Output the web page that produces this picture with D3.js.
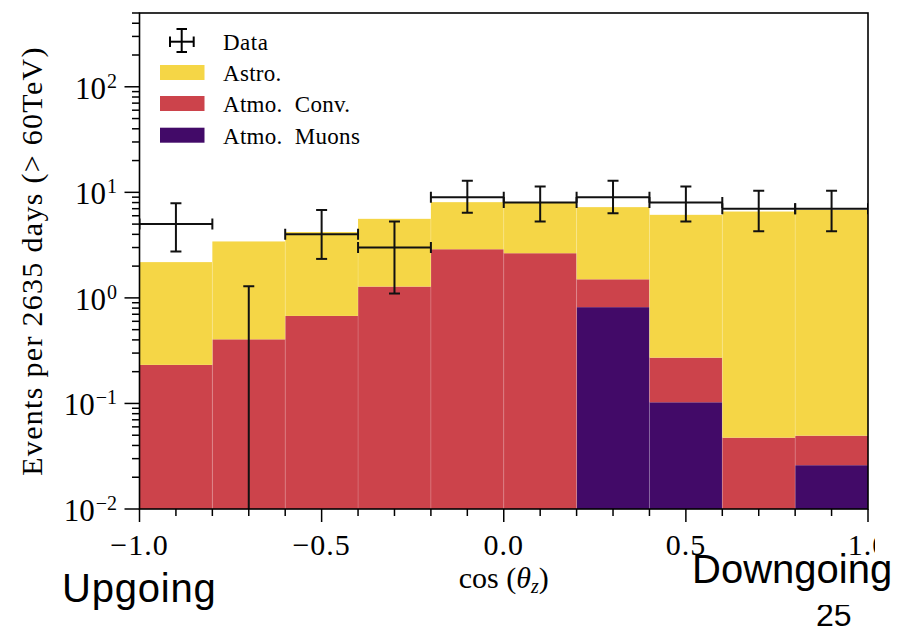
<!DOCTYPE html>
<html>
<head>
<meta charset="utf-8">
<script src="https://cdn.jsdelivr.net/npm/d3@7"></script>
<style>
  html, body { margin: 0; padding: 0; background: #fff; }
  svg { display: block; }
</style>
</head>
<body>
<svg id="chart" width="902" height="629"></svg>
<script>
// Zenith distribution of events, cos(theta_z) bins
const binEdges = [-1.0, -0.8, -0.6, -0.4, -0.2, 0.0, 0.2, 0.4, 0.6, 0.8, 1.0];

// Expected events per component (stacked: muons, conventional, astrophysical)
const atmoMuons = [0, 0, 0, 0, 0, 0, 0.817, 0.1026, 0, 0.026];
const atmoConv  = [0.232, 0.405, 0.675, 1.28, 2.89, 2.65, 0.683, 0.169, 0.0474, 0.0235];
const astro     = [1.95, 3.02, 3.53, 4.33, 5.18, 5.30, 5.74, 5.85, 6.53, 6.77];

// Observed events with lower / upper error bounds
const dataCounts = [5, 0, 4, 3, 9, 8, 9, 8, 7, 7];
const dataLow    = [2.75, 0, 2.34, 1.10, 6.4, 5.29, 6.35, 5.29, 4.28, 4.28];
const dataHigh   = [7.9, 1.29, 6.8, 5.29, 12.85, 11.35, 12.85, 11.35, 10.33, 10.33];

const xTickMajor = [-1.0, -0.5, 0.0, 0.5, 1.0];
const xTickLabels = ["\u22121.0", "\u22120.5", "0.0", "0.5", "1.0"];
const yTickExponents = [-2, -1, 0, 1, 2];

const seriesKeys = ["muons", "conv", "astro"];
const seriesNames = {astro: "Astro.", conv: "Atmo. Conv.", muons: "Atmo. Muons"};
const colors = {astro: "#f5d646", conv: "#cc434b", muons: "#420a68"};

const svg = d3.select("#chart");
const serif = "'Liberation Serif', 'Times New Roman', serif";
const sans = "'Liberation Sans', Arial, sans-serif";

const pLeft = 139.5, pRight = 868, pTop = 13, pBottom = 509;
const yMin = 0.01, yMax = 500;

const x = d3.scaleLinear().domain([-1, 1]).range([pLeft, pRight]);
const y = d3.scaleLog().domain([yMin, yMax]).range([pBottom, pTop]);
const yc = v => y(Math.max(v, yMin));

// clip paths: figure block cut at the right, plot area, page number
const defs = svg.append("defs");
defs.append("clipPath").attr("id", "figclip")
  .append("rect").attr("x", 0).attr("y", 0).attr("width", 875).attr("height", 629);
defs.append("clipPath").attr("id", "plotclip")
  .append("rect").attr("x", pLeft).attr("y", pTop).attr("width", pRight - pLeft).attr("height", pBottom - pTop);
defs.append("clipPath").attr("id", "numclip")
  .append("rect").attr("x", 790).attr("y", 605).attr("width", 112).attr("height", 30);

const fig = svg.append("g").attr("clip-path", "url(#figclip)");
const plot = fig.append("g").attr("clip-path", "url(#plotclip)");

// stacked histogram
const rows = astro.map((_, i) => ({
  i, x0: binEdges[i], x1: binEdges[i + 1],
  muons: atmoMuons[i], conv: atmoConv[i], astro: astro[i]
}));
const stacked = d3.stack().keys(seriesKeys)(rows);

stacked.forEach(layer => {
  plot.append("g").selectAll("rect")
    .data(layer.filter(d => d[1] - d[0] > 0))
    .join("rect")
    .attr("x", d => x(d.data.x0))
    .attr("width", d => x(d.data.x1) - x(d.data.x0))
    .attr("y", d => yc(d[1]))
    .attr("height", d => yc(d[0]) - yc(d[1]))
    .attr("fill", colors[layer.key]);
});

// faint seams between adjacent bins
plot.append("g").selectAll("line")
  .data(binEdges.slice(1, -1))
  .join("line")
  .attr("x1", d => x(d)).attr("x2", d => x(d))
  .attr("y1", (d, k) => yc(Math.min(
      d3.sum(seriesKeys, s => rows[k][s]), d3.sum(seriesKeys, s => rows[k + 1][s]))))
  .attr("y2", pBottom)
  .attr("stroke", "#ffffff").attr("stroke-opacity", 0.18).attr("stroke-width", 1);

// data points with error bars
const eb = plot.append("g").attr("stroke", "#111").attr("stroke-width", 2).attr("fill", "none");
const cap = 5.5;
dataCounts.forEach((v, i) => {
  const xc = x((binEdges[i] + binEdges[i + 1]) / 2);
  const yl = yc(dataLow[i]), yh = yc(dataHigh[i]);
  eb.append("line").attr("x1", xc).attr("x2", xc).attr("y1", yl).attr("y2", yh);
  eb.append("line").attr("x1", xc - cap).attr("x2", xc + cap).attr("y1", yh).attr("y2", yh);
  if (dataLow[i] > 0) {
    eb.append("line").attr("x1", xc - cap).attr("x2", xc + cap).attr("y1", yl).attr("y2", yl);
  }
  if (v > 0) {
    const yv = y(v), xa = x(binEdges[i]), xb = x(binEdges[i + 1]);
    eb.append("line").attr("x1", xa).attr("x2", xb).attr("y1", yv).attr("y2", yv);
    eb.append("line").attr("x1", xa).attr("x2", xa).attr("y1", yv - cap).attr("y2", yv + cap);
    eb.append("line").attr("x1", xb).attr("x2", xb).attr("y1", yv - cap).attr("y2", yv + cap);
  }
});

// frame
fig.append("rect").attr("x", pLeft).attr("y", pTop)
  .attr("width", pRight - pLeft).attr("height", pBottom - pTop)
  .attr("stroke", "#000").attr("stroke-width", 1.6).attr("fill", "none");

// x ticks
const xMinor = d3.range(-10, 11).map(k => k / 10);
fig.append("g").selectAll("line").data(xMinor).join("line")
  .attr("x1", d => x(d)).attr("x2", d => x(d))
  .attr("y1", pBottom).attr("y2", d => pBottom + (xTickMajor.some(m => Math.abs(m - d) < 1e-9) ? 13 : 7))
  .attr("stroke", "#000").attr("stroke-width", 1.5);
fig.append("g").selectAll("text").data(xTickMajor).join("text")
  .attr("x", d => x(d)).attr("y", 555)
  .attr("text-anchor", "middle")
  .attr("font-family", serif).attr("font-size", 30).attr("letter-spacing", 1)
  .attr("fill", "#000")
  .text((d, i) => xTickLabels[i]);

// y ticks
const yMinor = [];
for (let e = -2; e <= 2; e++) {
  for (let m = 1; m <= 9; m++) {
    const v = m * Math.pow(10, e);
    if (v <= yMax + 1e-9) yMinor.push({v, major: m === 1});
  }
}
fig.append("g").selectAll("line").data(yMinor).join("line")
  .attr("x1", pLeft).attr("x2", d => pLeft - (d.major ? 15 : 7.5))
  .attr("y1", d => y(d.v)).attr("y2", d => y(d.v))
  .attr("stroke", "#000").attr("stroke-width", 1.5);
const yLab = fig.append("g").selectAll("text").data(yTickExponents).join("text")
  .attr("x", 117).attr("y", d => y(Math.pow(10, d)) + 12)
  .attr("text-anchor", "end")
  .attr("font-family", serif).attr("fill", "#000");
yLab.append("tspan").attr("font-size", 31).text("10");
yLab.append("tspan").attr("font-size", 20).attr("dy", -11).attr("dx", 1)
  .text(d => (d < 0 ? "\u2212" : "") + Math.abs(d));

// axis titles
fig.append("text")
  .attr("transform", `translate(42,${(pTop + pBottom) / 2}) rotate(-90)`)
  .attr("text-anchor", "middle")
  .attr("font-family", serif).attr("font-size", 30).attr("letter-spacing", 1.3)
  .attr("fill", "#000")
  .text("Events per 2635 days (> 60TeV)");

const xt = fig.append("text")
  .attr("x", (pLeft + pRight) / 2).attr("y", 588)
  .attr("text-anchor", "middle")
  .attr("font-family", serif).attr("font-size", 30).attr("fill", "#000");
xt.append("tspan").text("cos (");
xt.append("tspan").attr("font-style", "italic").text("\u03b8");
xt.append("tspan").attr("font-style", "italic").attr("font-size", 20).attr("dy", 5).text("z");
xt.append("tspan").attr("dy", -5).text(")");

// legend
const lg = fig.append("g").attr("font-family", serif).attr("font-size", 23).attr("fill", "#000");
const lgX = 223;
const ld = lg.append("g").attr("stroke", "#000").attr("stroke-width", 2);
ld.append("line").attr("x1", 170).attr("x2", 193.7).attr("y1", 41.7).attr("y2", 41.7);
ld.append("line").attr("x1", 181.7).attr("x2", 181.7).attr("y1", 29).attr("y2", 52);
ld.append("line").attr("x1", 176.5).attr("x2", 187).attr("y1", 29).attr("y2", 29);
ld.append("line").attr("x1", 176.5).attr("x2", 187).attr("y1", 52).attr("y2", 52);
ld.append("line").attr("x1", 170).attr("x2", 170).attr("y1", 36.5).attr("y2", 47);
ld.append("line").attr("x1", 193.7).attr("x2", 193.7).attr("y1", 36.5).attr("y2", 47);
lg.append("text").attr("x", lgX).attr("y", 49.5).attr("letter-spacing", 0.5).text("Data");

const legendKeys = ["astro", "conv", "muons"];
const lgTop = [65, 96, 127.7];
legendKeys.forEach((k, i) => {
  lg.append("rect").attr("x", 160).attr("y", lgTop[i]).attr("width", 44.5).attr("height", 15)
    .attr("fill", colors[k]);
  lg.append("text").attr("x", lgX).attr("y", lgTop[i] + 16).attr("letter-spacing", 0.3)
    .attr("xml:space", "preserve").text(seriesNames[k].replace(". ", ".  "));
});

// slide annotations
svg.append("text").attr("x", 62).attr("y", 602).attr("letter-spacing", 0.8)
  .attr("font-family", sans).attr("font-size", 40).attr("fill", "#000").text("Upgoing");
svg.append("text").attr("x", 692).attr("y", 583)
  .attr("font-family", sans).attr("font-size", 40).attr("fill", "#000").text("Downgoing");
svg.append("text").attr("x", 816).attr("y", 626).attr("clip-path", "url(#numclip)")
  .attr("font-family", sans).attr("font-size", 32).attr("fill", "#000").text("25");
</script>
</body>
</html>
